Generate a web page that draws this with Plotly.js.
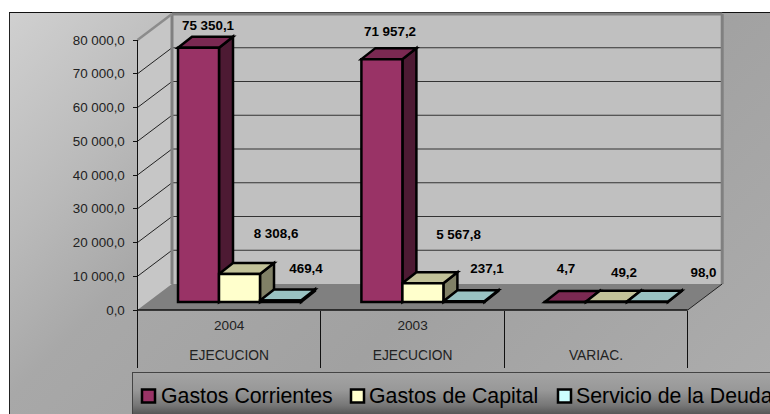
<!DOCTYPE html>
<html><head><meta charset="utf-8">
<script src="https://cdn.plot.ly/plotly-3.0.1.min.js"></script>
<style>
html,body{margin:0;padding:0;background:#fff;overflow:hidden}
#wrap{position:relative;width:770px;height:414px;overflow:hidden}
#bg{position:absolute;left:9px;top:12px;width:761px;height:402px;box-sizing:border-box;border-left:1.5px solid #222;border-top:1.5px solid #111;
 background:linear-gradient(135deg,#d0d0d0 0%,#b9b9b9 20%,#a8a8a8 33%,#a1a1a1 60%,#adadad 100%)}
#lg{position:absolute;left:132px;top:372px;width:640px;height:44px;box-sizing:border-box;border-left:1px solid #444;border-top:1px solid #444;
 background:linear-gradient(180deg,#a4a4a4 0%,#989898 40%,#777 75%,#505050 100%)}
#chart{position:absolute;left:0;top:0;width:770px;height:414px}
</style></head><body>
<div id="wrap"><div id="bg"></div><div id="lg"></div><div id="chart"></div></div>
<script>
// ---- data ----
const years = ['2004','2003',''];
const groups = ['EJECUCION','EJECUCION','VARIAC.'];
const gastosCorrientes = [75350.1, 71957.2, 4.7];
const gastosCapital = [8308.6, 5567.8, 49.2];
const servicioDeuda = [469.4, 237.1, 98.0];
const seriesNames = ['Gastos Corrientes','Gastos de Capital','Servicio de la Deuda'];
const yTicks = [0,10000,20000,30000,40000,50000,60000,70000,80000];

// ---- styling / geometry ----
const W=770,H=414;
const PXX=183.4, PXV=0.003375;            // px per category, px per value unit
const X0=137.5, Y0=310;
const px2x=p=>(p-X0)/PXX, py2y=p=>(Y0-p)/PXV;
const wallDX=34.5/PXX, wallDY=26/PXV;
const barW=41/PXX, barDX=14/PXX, barDY=11/PXV, barStart=40.5/PXX, barBase=8/PXV;
const fronts=['#993366','#ffffcc','#ccffff'];
const sides=['#4d1a33','#808066','#668080'];
const tops=['#7a2952','#c2c299','#99c2c2'];
const allSeries=[gastosCorrientes,gastosCapital,servicioDeuda];
// label centres in pixels, by series then category
const labelPxX=[[208,390,566],[276,458.5,624],[306,487,703.5]];
const labelPxY=[[26.5,32.5,269.5],[234.5,235.5,273.5],[269.5,269.5,273.5]];
const legendSwatchPx=[148.5,357.5,564.5], legendTextPx=[161,369,576], legendPy=398;

const fmt=v=>{const s=v.toFixed(1).split('.');return s[0].replace(/\B(?=(\d{3})+$)/g,' ')+','+s[1];};
const path=pts=>'M'+pts.map(p=>p[0]+','+p[1]).join('L')+'Z';
const poly=(pts,fill,lc,lw)=>({type:'path',xref:'x',yref:'y',layer:'below',path:path(pts),fillcolor:fill,line:{color:lc||fill,width:lw===undefined?0:lw}});
const seg=(a,b,c,w)=>({type:'line',xref:'x',yref:'y',layer:'below',x0:a[0],y0:a[1],x1:b[0],y1:b[1],line:{color:c,width:w}});

const nCat=years.length, yTop=yTicks[yTicks.length-1];
const shapes=[];
// walls + floor
shapes.push(poly([[0,0],[wallDX,wallDY],[wallDX,yTop+wallDY],[0,yTop]],'#c6c6c6'));
shapes.push(poly([[wallDX,wallDY],[nCat+wallDX,wallDY],[nCat+wallDX,yTop+wallDY],[wallDX,yTop+wallDY]],'#c0c0c0'));
shapes.push(poly([[0,0],[nCat,0],[nCat+wallDX,wallDY],[wallDX,wallDY]],'#808080'));
yTicks.slice(1,-1).forEach(v=>{
  shapes.push(seg([0,v],[wallDX,v+wallDY],'#222',1));
  shapes.push(seg([wallDX,v+wallDY],[nCat+wallDX,v+wallDY],'#333',1));
});
shapes.push(seg([wallDX,wallDY],[wallDX,yTop+wallDY],'#808080',3));
shapes.push(seg([wallDX,yTop+wallDY],[nCat+wallDX,yTop+wallDY],'#808080',3));
shapes.push(seg([nCat+wallDX,yTop+wallDY],[nCat+wallDX,wallDY],'#808080',3));
shapes.push(seg([0,yTop],[wallDX,yTop+wallDY],'#8c8c8c',2.5));
shapes.push(seg([nCat,0],[nCat+wallDX,wallDY],'#222',1));
shapes.push(seg([0,0],[0,yTop],'#111',1));
shapes.push(seg([0,0],[nCat,0],'#111',1.5));
// side and top faces of every bar, painted left to right
for(let c=0;c<nCat;c++){
  allSeries.forEach((vals,s)=>{
    const x0=c+barStart+s*barW, x1=x0+barW, y0=barBase, y1=barBase+vals[c];
    shapes.push(poly([[x1,y0],[x1+barDX,y0+barDY],[x1+barDX,y1+barDY],[x1,y1]],sides[s],'#000',2.5));
    shapes.push(poly([[x0,y1],[x0+barDX,y1+barDY],[x1+barDX,y1+barDY],[x1,y1]],tops[s],'#000',2.5));
  });
}
const cats=years.map((_,i)=>i);
const traces=allSeries.map((vals,s)=>({
  type:'bar',name:seriesNames[s],showlegend:false,hoverinfo:'skip',
  x:cats.map(c=>c+barStart+(s+0.5)*barW),y:vals,base:vals.map(()=>barBase),width:barW,
  marker:{color:fronts[s],line:{color:'#000',width:2.5}}
}));
// value labels
allSeries.forEach((vals,s)=>traces.push({
  type:'scatter',mode:'text',showlegend:false,hoverinfo:'skip',
  x:labelPxX[s].map(px2x),y:labelPxY[s].map(py2y),text:vals.map(fmt),textposition:'middle center',
  textfont:{family:'Liberation Sans',size:13.4,color:'#000',weight:700},cliponaxis:false
}));
// category labels
traces.push({type:'scatter',mode:'text',showlegend:false,hoverinfo:'skip',
  x:cats.map(c=>c+0.5),y:cats.map(()=>py2y(327)),text:years,textposition:'middle center',
  textfont:{family:'Liberation Sans',size:13.6,color:'#222'}});
traces.push({type:'scatter',mode:'text',showlegend:false,hoverinfo:'skip',
  x:cats.map(c=>c+0.5),y:cats.map(()=>py2y(357)),text:groups,textposition:'middle center',
  textfont:{family:'Liberation Sans',size:13.8,color:'#222'}});
// legend
traces.push({type:'scatter',mode:'markers',showlegend:false,hoverinfo:'skip',
  x:legendSwatchPx.map(px2x),y:legendSwatchPx.map(()=>py2y(396)),
  marker:{symbol:'square',size:13,color:fronts,line:{color:'#000',width:2.5}},cliponaxis:false});
traces.push({type:'scatter',mode:'text',showlegend:false,hoverinfo:'skip',
  x:legendTextPx.map(px2x),y:legendTextPx.map(()=>py2y(legendPy)),text:seriesNames,textposition:'middle right',
  textfont:{family:'Liberation Sans',size:21.3,color:'#000'},cliponaxis:false});

const layout={
  width:W,height:H,margin:{l:0,r:0,t:0,b:0,pad:0},autosize:false,
  paper_bgcolor:'rgba(0,0,0,0)',plot_bgcolor:'rgba(0,0,0,0)',barmode:'overlay',showlegend:false,
  font:{family:'Liberation Sans',color:'#222'},shapes,
  xaxis:{range:[px2x(0),px2x(W)],anchor:'free',position:(H-Y0)/H,showgrid:false,zeroline:false,showline:false,
    tickmode:'array',tickvals:[0,1,2,3],ticks:'outside',ticklen:57,tickcolor:'#111',tickwidth:1,showticklabels:false},
  yaxis:{range:[py2y(H),py2y(0)],anchor:'free',position:X0/W,showgrid:false,zeroline:false,showline:false,
    tickmode:'array',tickvals:yTicks,ticktext:yTicks.map(fmt),ticks:'outside',ticklen:5,tickcolor:'#111',tickwidth:1,ticklabelstandoff:5,
    tickfont:{family:'Liberation Sans',size:13.4,color:'#222'}}
};
Plotly.newPlot('chart',traces,layout,{displayModeBar:false,staticPlot:true});
</script></body></html>
